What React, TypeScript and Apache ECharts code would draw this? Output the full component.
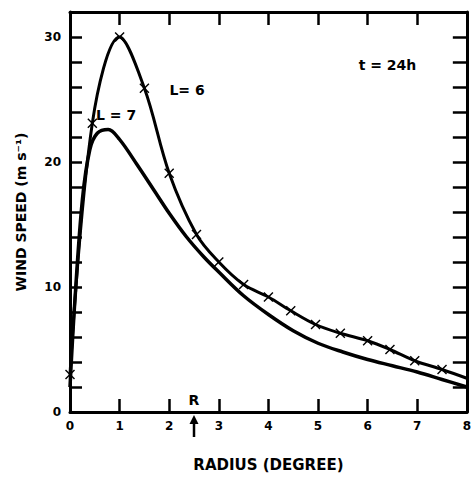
import React, { useEffect, useRef } from 'react';
import * as echarts from 'echarts';

// L = 6 curve (with x markers)
const radiusL6 = [0, 0.45, 1.0, 1.5, 2.0, 2.55, 3.0, 3.5, 4.0, 4.45, 4.95, 5.45, 6.0, 6.45, 6.95, 7.5, 8.0];
const speedL6 = [3, 23.1, 30, 25.9, 19.1, 14.2, 12.0, 10.2, 9.2, 8.1, 7.0, 6.3, 5.7, 5.0, 4.1, 3.4, 2.7];
const markedL6 = [true, true, true, true, true, true, true, true, true, true, true, true, true, true, true, true, false];

// L = 7 curve (plain)
const radiusL7 = [0, 0.1, 0.25, 0.4, 0.55, 0.77, 1.0, 1.35, 1.7, 2.0, 2.35, 2.7, 3.0, 3.5, 4.0, 4.5, 5.0, 5.5, 6.0, 6.5, 7.0, 7.5, 8.0];
const speedL7 = [2, 9, 17, 21, 22.3, 22.6, 21.8, 19.8, 17.7, 15.9, 14.0, 12.4, 11.2, 9.3, 7.8, 6.5, 5.5, 4.8, 4.2, 3.7, 3.2, 2.6, 2.0];

const annotations = [
  { text: 't = 24h', x: 6.4, y: 27.8 },
  { text: 'L= 6', x: 2.36, y: 25.8 },
  { text: 'L = 7', x: 0.93, y: 23.8 },
  { text: 'R', x: 2.5, y: 1.0 },
];
const arrowRadius = 2.5;

const xMin = 0, xMax = 8, xStep = 1;
const yMin = 0, yMax = 32, yStep = 2, yLabelStep = 10;

const crossPath = 'path://M0,1L1,0L5,4L9,0L10,1L6,5L10,9L9,10L5,6L1,10L0,9L4,5Z';

export default function App() {
  const ref = useRef<HTMLDivElement>(null);
  useEffect(() => {
    document.body.style.margin = '0';
    const chart = echarts.init(ref.current!, null, { renderer: 'svg' });
    const font = 'DejaVu Sans';
    const lineStyle = { color: '#000', width: 3 };
    const tickStyle = { color: '#000', width: 2.5 };
    const labelStyle = { color: '#000', fontFamily: font, fontWeight: 'bold', fontSize: 12 };

    chart.setOption({
      animation: false,
      backgroundColor: '#fff',
      grid: { left: 70, right: 0, top: 12, bottom: 64 },
      xAxis: [
        {
          type: 'value', min: xMin, max: xMax, interval: xStep, position: 'bottom',
          axisLine: { show: true, onZero: false, lineStyle },
          axisTick: { show: true, inside: true, length: 13, lineStyle: tickStyle },
          axisLabel: { ...labelStyle, margin: 8 },
          splitLine: { show: false },
          name: 'RADIUS (DEGREE)', nameLocation: 'middle', nameGap: 45,
          nameTextStyle: { color: '#000', fontFamily: font, fontWeight: 'bold', fontSize: 15 },
        },
        {
          type: 'value', min: xMin, max: xMax, interval: xStep, position: 'top',
          axisLine: { show: true, onZero: false, lineStyle },
          axisTick: { show: true, inside: true, length: 13, lineStyle: tickStyle },
          axisLabel: { show: false },
          splitLine: { show: false },
        },
      ],
      yAxis: [
        {
          type: 'value', min: yMin, max: yMax, interval: yStep, position: 'left',
          axisLine: { show: true, onZero: false, lineStyle },
          axisTick: { show: true, inside: true, length: 12, lineStyle: tickStyle },
          axisLabel: {
            ...labelStyle, margin: 9,
            formatter: (v: number) => (v % yLabelStep === 0 ? String(v) : ''),
          },
          splitLine: { show: false },
          name: 'WIND SPEED (m s⁻¹)', nameLocation: 'middle', nameGap: 42, nameRotate: 90,
          nameTextStyle: { color: '#000', fontFamily: font, fontWeight: 'bold', fontSize: 14 },
        },
        {
          type: 'value', min: yMin, max: yMax, interval: yStep, position: 'right',
          axisLine: { show: true, onZero: false, lineStyle },
          axisTick: { show: true, inside: true, length: 14, lineStyle: tickStyle },
          axisLabel: { show: false },
          splitLine: { show: false },
        },
      ],
      series: [
        {
          type: 'line', name: 'L = 6', xAxisIndex: 0, yAxisIndex: 0,
          smooth: 0.35,
          data: radiusL6.map((r, i) => ({
            value: [r, speedL6[i]],
            symbol: markedL6[i] ? crossPath : 'none',
          })),
          symbolSize: 10,
          itemStyle: { color: '#000' },
          lineStyle: { color: '#000', width: 3 },
          z: 3,
        },
        {
          type: 'line', name: 'L = 7', xAxisIndex: 0, yAxisIndex: 0,
          smooth: 0.35,
          showSymbol: false, symbol: 'none',
          data: radiusL7.map((r, i) => [r, speedL7[i]]),
          lineStyle: { color: '#000', width: 3.5 },
          z: 2,
        },
      ],
    });

    const toPx = (x: number, y: number) =>
      chart.convertToPixel({ xAxisIndex: 0, yAxisIndex: 0 }, [x, y]) as number[];

    const graphics: any[] = annotations.map((a) => {
      const [px, py] = toPx(a.x, a.y);
      return {
        type: 'text', x: px, y: py, z: 10,
        style: {
          text: a.text, fill: '#000', font: `bold 14px "${font}"`,
          textAlign: 'center', textVerticalAlign: 'middle',
        },
      };
    });
    const [ax, ay] = toPx(arrowRadius, 0);
    graphics.push({
      type: 'polygon', z: 10,
      shape: { points: [[ax, ay + 3], [ax - 4.5, ay + 12], [ax + 4.5, ay + 12]] },
      style: { fill: '#000' },
    });
    graphics.push({
      type: 'line', z: 10,
      shape: { x1: ax, y1: ay + 10, x2: ax, y2: ay + 25 },
      style: { stroke: '#000', lineWidth: 2.5 },
    });
    chart.setOption({ graphic: graphics });

    return () => chart.dispose();
  }, []);
  return <div ref={ref} style={{ width: 474, height: 477 }} />;
}
